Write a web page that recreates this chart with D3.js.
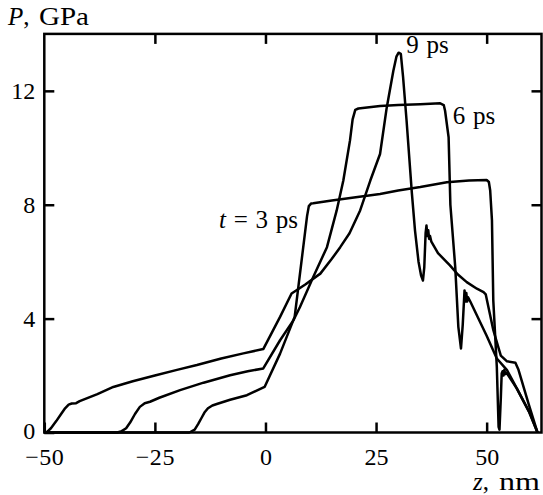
<!DOCTYPE html>
<html>
<head>
<meta charset="utf-8">
<script src="https://cdn.jsdelivr.net/npm/d3@7"></script>
<style>
  html, body { margin: 0; padding: 0; background: #fff; }
  svg { display: block; }
  .tick text { font-family: "Liberation Serif", "Times New Roman", serif; font-size: 24px; fill: #000; }
  .lbl { font-family: "Liberation Serif", "Times New Roman", serif; font-size: 25px; fill: #000; }
</style>
</head>
<body>
<svg id="chart" width="543" height="495"></svg>
<script>
// Pressure profiles P(z) at three moments after the pulse, [z nm, P GPa]
const profile3ps = [
  [-50, 0], [-17.2, 0], [-16, 0.1], [-15.2, 0.3], [-14.5, 0.5], [-13.8, 0.7], [-13, 0.85],
  [-12, 0.95], [-11, 1.0], [-8, 1.15], [-4.2, 1.31], [-0.2, 1.6], [3.3, 2.77], [6.6, 4.06],
  [9.4, 7.6], [9.8, 7.95], [10.3, 8.04], [10.8, 8.05], [15, 8.15], [20, 8.25], [25.9, 8.38],
  [30, 8.5], [35, 8.62], [41, 8.79], [46, 8.85], [50, 8.87], [50.5, 8.8], [50.8, 8.5],
  [51.2, 7.45], [51.5, 4.64], [52.3, 2.3], [52.7, 0.2], [52.9, 0.1], [53.2, 1.2], [53.4, 2.07],
  [53.6, 2.15], [53.8, 2.0], [54.0, 2.2], [54.2, 2.05], [54.5, 2.1], [56.8, 1.55], [59.8, 0.67],
  [61.5, 0]
];
const profile6ps = [
  [-50, 0], [-33.5, 0], [-32.5, 0.05], [-31.5, 0.15], [-30.6, 0.35], [-29.5, 0.65], [-28.4, 0.9],
  [-27.3, 1.03], [-26.1, 1.08], [-24, 1.22], [-19.3, 1.49], [-14, 1.75], [-8, 2.01], [-4, 2.15],
  [-0.5, 2.25], [3.3, 3.24], [6.3, 3.94], [7.8, 4.41], [10.8, 5.46], [13.9, 6.51], [16.1, 7.8],
  [17.6, 8.85], [19.1, 10.25], [19.7, 11.0], [20.3, 11.33], [21, 11.38], [25.9, 11.47],
  [30, 11.5], [35, 11.53], [39.5, 11.56], [40.3, 11.5], [40.6, 11.3], [41.4, 10.37], [41.8, 8.0],
  [42.9, 5.81], [43.6, 3.71], [44.2, 2.95], [44.6, 3.8], [45.0, 4.99], [45.2, 4.6], [45.4, 4.9],
  [45.6, 4.6], [45.8, 4.75], [46.3, 4.6], [48, 4.05], [50, 3.4], [52.3, 2.6], [54.6, 2.19],
  [57, 1.5], [59.5, 0.75], [61.5, 0]
];
const profile9ps = [
  [-50, 0], [-49.3, 0.03], [-48.5, 0.15], [-47.3, 0.4], [-46.2, 0.65], [-45.3, 0.85],
  [-44.5, 0.98], [-43.8, 1.02], [-42.8, 1.03], [-42, 1.1], [-38, 1.35], [-34.4, 1.6], [-30, 1.8],
  [-25, 2.0], [-20, 2.2], [-15.5, 2.37], [-10, 2.6], [-5, 2.78], [-0.5, 2.93], [3.3, 4.06],
  [5.9, 4.88], [9, 5.2], [12.4, 5.58], [15, 6.1], [16.9, 6.51], [19, 7.0], [21.4, 7.8],
  [23.7, 8.85], [25.9, 9.78], [27.4, 11.4], [28.9, 12.7], [29.6, 13.2], [30.1, 13.34],
  [30.6, 13.3], [31.1, 12.5], [31.9, 10.95], [33.1, 8.4], [33.8, 7.1], [34.6, 6.0], [35.2, 5.5],
  [35.6, 5.34], [35.9, 5.8], [36.2, 7.0], [36.4, 7.27], [36.6, 6.9], [36.8, 7.1], [37.0, 6.8],
  [37.2, 6.9], [37.5, 6.7], [39, 6.3], [41.7, 5.87], [43.5, 5.55], [45.5, 5.28], [47.8, 5.05],
  [49.3, 4.93], [49.8, 4.85], [51.5, 3.6], [53.2, 2.7], [54.6, 2.5], [56.5, 2.45], [57.2, 2.2],
  [59.5, 1.0], [61.5, 0]
];

const xTicks = [-50, -25, 0, 25, 50];
const yTicks = [0, 4, 8, 12];

const svg = d3.select("#chart");
const plotLeft = 44.3, plotRight = 541.5, plotTop = 33.9, plotBottom = 432.5;

const x = d3.scaleLinear().domain([-50, 62.4]).range([plotLeft, plotRight]);
const y = d3.scaleLinear().domain([0, 14]).range([plotBottom, plotTop]);

const fmt = d => (d < 0 ? "\u2212" + Math.abs(d) : String(d));

// bottom axis with labels, inward ticks
const gx = svg.append("g").attr("transform", `translate(0,${plotBottom})`)
  .call(d3.axisBottom(x).tickValues(xTicks).tickFormat(fmt).tickSize(-10).tickPadding(15));
// top axis: inward ticks only
const gxt = svg.append("g").attr("transform", `translate(0,${plotTop})`)
  .call(d3.axisTop(x).tickValues(xTicks.slice(1)).tickFormat("").tickSize(-10));
// left axis with labels
const gy = svg.append("g").attr("transform", `translate(${plotLeft},0)`)
  .call(d3.axisLeft(y).tickValues(yTicks).tickSize(-10).tickPadding(9));
// right axis: inward ticks only
const gyr = svg.append("g").attr("transform", `translate(${plotRight},0)`)
  .call(d3.axisRight(y).tickValues(yTicks.slice(1)).tickFormat("").tickSize(-10));

[gx, gxt, gy, gyr].forEach(g => {
  g.select(".domain").remove();
  g.selectAll(".tick line").attr("stroke", "#000").attr("stroke-width", 2.5);
  g.attr("font-family", null).attr("font-size", null);
});
// the minus sign sits a little apart from the digits
gx.selectAll(".tick text").attr("letter-spacing", d => (d < 0 ? "0.6px" : null));
// lift the zero label a touch so it clears the −50 below it
gy.selectAll(".tick text").filter(d => d === 0).attr("dy", "0.26em");

const line = d3.line().x(d => x(d[0])).y(d => y(d[1]));

[profile3ps, profile6ps, profile9ps].forEach(p => {
  svg.append("path").datum(p)
    .attr("d", line)
    .attr("fill", "none")
    .attr("stroke", "#000")
    .attr("stroke-width", 2.5)
    .attr("stroke-linejoin", "round");
});

// frame
svg.append("rect")
  .attr("x", plotLeft).attr("y", plotTop)
  .attr("width", plotRight - plotLeft).attr("height", plotBottom - plotTop)
  .attr("fill", "none").attr("stroke", "#000").attr("stroke-width", 2.5);

// axis titles (the unit text is set wide)
const ty = svg.append("text").attr("class", "lbl").attr("x", 8).attr("y", 25);
ty.append("tspan").attr("font-style", "italic").text("P");
ty.append("tspan").text(",");
ty.append("tspan").attr("x", 39)
  .attr("textLength", 50).attr("lengthAdjust", "spacingAndGlyphs").text("GPa");

const tx = svg.append("text").attr("class", "lbl").attr("x", 473).attr("y", 490);
tx.append("tspan").attr("font-style", "italic").text("z");
tx.append("tspan").text(",");
tx.append("tspan").attr("x", 499)
  .attr("textLength", 41).attr("lengthAdjust", "spacingAndGlyphs").text("nm");

// curve labels
const lblSpacing = "1.5px";
svg.append("text").attr("class", "lbl").attr("word-spacing", lblSpacing)
  .attr("x", x(31.8)).attr("y", y(13.33)).text("9 ps");
svg.append("text").attr("class", "lbl").attr("word-spacing", lblSpacing)
  .attr("x", x(42.36)).attr("y", y(10.84)).text("6 ps");
const t3 = svg.append("text").attr("class", "lbl").attr("word-spacing", lblSpacing)
  .attr("x", x(7.35)).attr("y", y(7.18)).attr("text-anchor", "end");
t3.append("tspan").attr("font-style", "italic").text("t");
t3.append("tspan").text(" = 3 ps");
</script>
</body>
</html>
